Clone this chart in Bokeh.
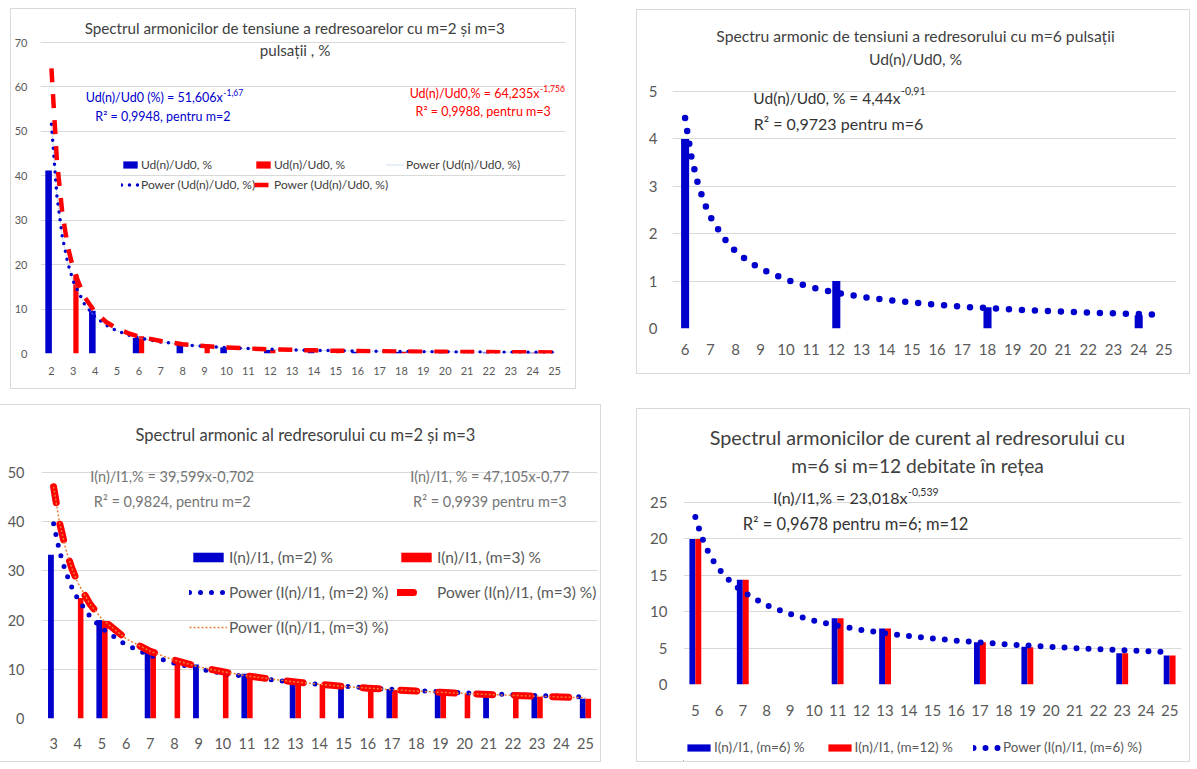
from bokeh.plotting import figure
from bokeh.models import Range1d, FixedTicker, Label, Legend, LegendItem, Spacer, ColumnDataSource
from bokeh.layouts import row, column
from bokeh.transform import dodge
from bokeh.embed import file_html
from bokeh.resources import INLINE

FONT = "Lato"
BLUE = "#0000CC"
RED = "#FF0000"
ORANGE = "#ED7D31"
LIGHTBLUE = "#9DC3E6"
GRID = "#D9D9D9"
TICK = "#595959"
TITLE = "#404040"
DARK = "#333333"
GRAY = "#767676"

# ---------------- Panel 1 data (Ud(n)/Ud0, m=2 and m=3) ----------------
p1_harmonics = list(range(2, 26))
p1_m2_harm = [2, 4, 6, 8, 10, 12, 14, 16, 18, 20, 22, 24]
p1_m2_vals = [41.2, 9.6, 3.5, 2.0, 1.4, 0.8, 0.55, 0.42, 0.33, 0.27, 0.22, 0.18]
p1_m3_harm = [3, 6, 9, 12, 15, 18, 21, 24]
p1_m3_vals = [17.7, 3.9, 1.6, 0.85, 0.55, 0.4, 0.3, 0.25]
p1_trend_x = [2, 2.25, 2.5, 2.75, 3, 3.5, 4, 4.5, 5, 5.5, 6, 7, 8, 9, 10, 11, 12, 13,
              14, 15, 16, 17, 18, 19, 20, 21, 22, 23, 24, 25]
p1_trend_m2 = [51.6, 35.5, 26.2, 20.3, 16.2, 11.2, 8.2, 6.4, 5.1, 4.2, 3.5, 2.6, 2.0, 1.6,
               1.3, 1.1, 0.94, 0.81, 0.71, 0.63, 0.56, 0.50, 0.46, 0.41, 0.38, 0.35, 0.32,
               0.30, 0.27, 0.26]
p1_trend_m3 = [64.2, 43.4, 31.5, 24.0, 19.0, 12.8, 9.3, 7.1, 5.6, 4.6, 3.8, 2.8, 2.1, 1.67,
               1.36, 1.13, 0.95, 0.82, 0.71, 0.62, 0.55, 0.49, 0.44, 0.40, 0.37, 0.33, 0.31,
               0.28, 0.26, 0.24]
p1_yticks = [0, 10, 20, 30, 40, 50, 60, 70]

# ---------------- Panel 2 data (Ud(n)/Ud0, m=6) ----------------
p2_harmonics = list(range(6, 26))
p2_m6_harm = [6, 12, 18, 24]
p2_m6_vals = [4.0, 1.0, 0.45, 0.28]
p2_trend_x = [6, 6.25, 6.5, 6.75, 7, 7.5, 8, 8.5, 9, 10, 11, 12, 13, 14, 15, 16, 17, 18,
              19, 20, 21, 22, 23, 24, 25]
p2_trend = [4.44, 3.62, 3.07, 2.67, 2.36, 1.93, 1.63, 1.42, 1.26, 1.03, 0.87, 0.755, 0.67,
            0.60, 0.55, 0.50, 0.46, 0.43, 0.40, 0.378, 0.355, 0.336, 0.32, 0.304, 0.29]
p2_yticks = [0, 1, 2, 3, 4, 5]

# ---------------- Panel 3 data (I(n)/I1, m=2 and m=3) ----------------
p3_harmonics = list(range(3, 26))
p3_m2_harm = [3, 5, 7, 9, 11, 13, 15, 17, 19, 21, 23, 25]
p3_m2_vals = [33.3, 20.0, 14.3, 11.0, 9.1, 7.6, 6.5, 6.0, 5.3, 4.8, 4.3, 4.0]
p3_m3_harm = [4, 5, 7, 8, 10, 11, 13, 14, 16, 17, 19, 20, 22, 23, 25]
p3_m3_vals = [24.5, 19.8, 14.0, 11.8, 9.6, 9.0, 7.5, 7.0, 6.2, 5.8, 5.2, 5.0, 4.6, 4.4, 4.0]
p3_trend_x = [3, 3.25, 3.5, 3.75, 4, 4.5, 5, 6, 7, 8, 9, 10, 11, 12, 13, 14, 15, 16, 17,
              18, 19, 20, 21, 22, 23, 24, 25]
p3_trend_m2 = [39.6, 33.9, 29.8, 26.7, 24.3, 20.8, 18.3, 14.96, 12.8, 11.25, 10.1, 9.19,
               8.47, 7.87, 7.36, 6.92, 6.54, 6.21, 5.92, 5.66, 5.42, 5.21, 5.01, 4.84, 4.67,
               4.52, 4.38]
p3_trend_m3 = [47.1, 39.7, 34.5, 30.6, 27.6, 23.3, 20.2, 16.2, 13.65, 11.85, 10.5, 9.5,
               8.67, 8.0, 7.43, 6.95, 6.53, 6.17, 5.85, 5.57, 5.32, 5.09, 4.88, 4.70, 4.52,
               4.36, 4.21]
p3_yticks = [0, 10, 20, 30, 40, 50]

# ---------------- Panel 4 data (I(n)/I1, m=6 and m=12) ----------------
p4_harmonics = list(range(5, 26))
p4_harm = [5, 7, 11, 13, 17, 19, 23, 25]
p4_m6_vals = [20.0, 14.4, 9.1, 7.7, 5.8, 5.2, 4.3, 4.0]
p4_m12_vals = [20.0, 14.4, 9.1, 7.7, 5.8, 5.1, 4.3, 4.0]
p4_trend_x = [5, 5.25, 5.5, 5.75, 6, 6.5, 7, 8, 9, 10, 11, 12, 13, 14, 15, 16, 17, 18, 19,
              20, 21, 22, 23, 24, 25]
p4_trend = [23.0, 20.4, 18.5, 17.0, 15.84, 14.05, 12.73, 10.9, 9.67, 8.76, 8.06, 7.50, 7.04,
            6.65, 6.32, 6.03, 5.78, 5.55, 5.35, 5.16, 5.0, 4.85, 4.71, 4.58, 4.46]
p4_yticks = [0, 5, 10, 15, 20, 25]


def make_fig(g, xticks, yticks, tick_size, xstand, ystand, outline=True):
    x0, y0, w, h = g["box"]
    fl, ft, fr, fb = g["frame"]
    ya, yb = g["yr"]
    # headroom above the grid so that the titles and notes sit inside the plot area
    ytop = yb + (ft - y0) * (yb - ya) / (fb - ft)
    p = figure(width=w, height=h, x_range=Range1d(*g["xr"]), y_range=Range1d(ya, ytop),
               output_backend="svg", toolbar_location=None,
               min_border_left=fl - x0, min_border_right=x0 + w - fr,
               min_border_top=0, min_border_bottom=y0 + h - fb)
    p.outline_line_color = None
    p.background_fill_color = "white"
    p.border_fill_color = "white"
    for ax in (p.xaxis[0], p.yaxis[0]):
        ax.axis_line_color = None
        ax.major_tick_line_color = None
        ax.minor_tick_line_color = None
        ax.major_tick_out = 0
        ax.major_tick_in = 0
        ax.minor_tick_out = 0
        ax.minor_tick_in = 0
        ax.major_label_text_font = FONT
        ax.major_label_text_font_size = f"{tick_size}px"
        ax.major_label_text_color = TICK
    p.xaxis[0].ticker = FixedTicker(ticks=xticks)
    p.yaxis[0].ticker = FixedTicker(ticks=yticks)
    p.xaxis[0].major_label_standoff = xstand
    p.yaxis[0].major_label_standoff = ystand
    p.xgrid.grid_line_color = None
    p.ygrid[0].ticker = FixedTicker(ticks=yticks)
    p.ygrid.grid_line_color = GRID
    p.ygrid.grid_line_width = 1
    if outline:
        p.styles = {"outline": "1px solid #D9D9D9"}
    return p


def to_data(g, px, py):
    fl, ft, fr, fb = g["frame"]
    xa, xb = g["xr"]
    ya, yb = g["yr"]
    return (xa + (px - fl) / (fr - fl) * (xb - xa), ya + (fb - py) / (fb - ft) * (yb - ya))


def text(p, g, px, py, s, size, color, align="center"):
    xd, yd = to_data(g, px, py)
    p.add_layout(Label(x=xd, y=yd, text=s, text_font=FONT, text_font_size=f"{size}px",
                       text_color=color, text_align=align, text_baseline="middle"))


def bars(p, xs, tops, offset, width, color):
    src = ColumnDataSource(dict(x=xs, top=tops))
    return p.vbar(x=dodge("x", offset), top="top", bottom=0, width=width, source=src,
                  fill_color=color, line_color=None)


def legend(p, fl, fb, items, left_px, bottom_px, size, color, gw, gh, lh, spacing,
           orientation="vertical", standoff=2):
    leg = Legend(items=items, location=(left_px - fl - 4, fb - bottom_px),
                 orientation=orientation,
                 label_text_font=FONT, label_text_font_size=f"{size}px",
                 label_text_color=color, glyph_width=gw, glyph_height=gh, label_height=lh,
                 label_standoff=standoff, spacing=spacing, padding=0, margin=0,
                 border_line_color=None, background_fill_alpha=0)
    p.add_layout(leg)


# ---------------- Panel 1 ----------------
g1 = dict(box=(11, 9, 564, 379), frame=(38, 42, 565, 353), xr=(1.5, 25.5), yr=(0, 70))
p1 = make_fig(g1, p1_harmonics, p1_yticks, 11, 13, 13)
b1a = bars(p1, p1_m2_harm, p1_m2_vals, -0.13, 0.30, BLUE)
b1b = bars(p1, p1_m3_harm, p1_m3_vals, 0.12, 0.24, RED)
t1c = p1.line(p1_trend_x, p1_trend_m2, line_color=LIGHTBLUE, line_width=1, line_dash="1 1")
t1a = p1.line(p1_trend_x, p1_trend_m2, line_color=BLUE, line_width=3.5, line_dash="0 8",
              line_cap="round", line_join="round")
t1b = p1.line(p1_trend_x, p1_trend_m3, line_color=RED, line_width=4.5, line_dash="14 12",
              line_join="round")
text(p1, g1, 293.5, 27, "Spectrul armonicilor de tensiune a redresoarelor cu m=2 și m=3", 15.2, TITLE)
text(p1, g1, 293.5, 49.5, "pulsații , %", 15.2, TITLE)
text(p1, g1, 221, 97, "Ud(n)/Ud0 (%) = 51,606x", 12.5, BLUE, "right")
text(p1, g1, 221.5, 91.5, "-1,67", 8.5, BLUE, "left")
text(p1, g1, 162.5, 116, "R² = 0,9948,  pentru m=2", 12.5, BLUE)
text(p1, g1, 539, 93, "Ud(n)/Ud0,% = 64,235x", 12.5, RED, "right")
text(p1, g1, 539.5, 87.5, "-1,756", 8.5, RED, "left")
text(p1, g1, 484, 111, "R² = 0,9988, pentru  m=3", 12.5, RED)
legend(p1, 38, 353, [LegendItem(label="Ud(n)/Ud0, %", renderers=[b1a]),
                     LegendItem(label="Power (Ud(n)/Ud0, %)", renderers=[t1a])],
       123, 192, 12, "#404040", 18, 9, 16, 4)
legend(p1, 38, 353, [LegendItem(label="Ud(n)/Ud0, %", renderers=[b1b]),
                     LegendItem(label="Power (Ud(n)/Ud0, %)", renderers=[t1b])],
       256, 192, 12, "#404040", 18, 9, 16, 4)
legend(p1, 38, 353, [LegendItem(label="Power (Ud(n)/Ud0, %)", renderers=[t1c])],
       388, 172, 12, "#404040", 18, 9, 16, 4)

# ---------------- Panel 2 ----------------
g2 = dict(box=(637, 10, 552, 363), frame=(672, 91, 1176, 328), xr=(5.5, 25.5), yr=(0, 5))
p2 = make_fig(g2, p2_harmonics, p2_yticks, 15, 15, 15)
bars(p2, p2_m6_harm, p2_m6_vals, 0.0, 0.32, BLUE)
p2.line(p2_trend_x, p2_trend, line_color=BLUE, line_width=6.5, line_dash="0 13",
        line_cap="round", line_join="round")
text(p2, g2, 915, 35, "Spectru armonic de tensiuni a redresorului cu m=6 pulsații", 15.7, TITLE)
text(p2, g2, 915, 58.7, "Ud(n)/Ud0, %", 15.7, TITLE)
text(p2, g2, 900, 97.3, "Ud(n)/Ud0, % = 4,44x", 15.5, DARK, "right")
text(p2, g2, 900.5, 90.5, "-0,91", 10.5, DARK, "left")
text(p2, g2, 838, 122.5, "R² = 0,9723 pentru m=6", 16, DARK)

# ---------------- Panel 3 ----------------
g3 = dict(box=(0, 405, 600, 356), frame=(41, 472, 597, 718), xr=(2.5, 25.5), yr=(0, 50))
p3 = make_fig(g3, p3_harmonics, p3_yticks, 14.5, 19, 17)
b3a = bars(p3, p3_m2_harm, p3_m2_vals, -0.11, 0.24, BLUE)
b3b = bars(p3, p3_m3_harm, p3_m3_vals, 0.12, 0.23, RED)
t3a = p3.line(p3_trend_x, p3_trend_m2, line_color=BLUE, line_width=5, line_dash="0 11",
              line_cap="round", line_join="round")
t3b = p3.line(p3_trend_x, p3_trend_m3, line_color=RED, line_width=7, line_dash="16 22",
              line_cap="round", line_join="round")
t3c = p3.line(p3_trend_x, p3_trend_m3, line_color=ORANGE, line_width=1.5, line_dash="2 2")
text(p3, g3, 305, 434, "Spectrul armonic al redresorului cu m=2 și m=3", 16.5, TITLE)
text(p3, g3, 171.7, 476, "I(n)/I1,% = 39,599x-0,702", 14.5, GRAY)
text(p3, g3, 171.8, 500.7, "R² = 0,9824, pentru m=2", 14.5, GRAY)
text(p3, g3, 489.3, 476, "I(n)/I1, % = 47,105x-0,77", 14.5, GRAY)
text(p3, g3, 489.4, 500.7, "R² = 0,9939 pentru m=3", 14.5, GRAY)
legend(p3, 41, 718, [LegendItem(label="I(n)/I1, (m=2) %", renderers=[b3a]),
                     LegendItem(label="Power (I(n)/I1, (m=2) %)", renderers=[t3a]),
                     LegendItem(label="Power (I(n)/I1, (m=3) %)", renderers=[t3c])],
       193, 636.7, 15.5, TICK, 38, 12, 20, 15)
legend(p3, 41, 718, [LegendItem(label="I(n)/I1, (m=3) %", renderers=[b3b]),
                     LegendItem(label="Power (I(n)/I1, (m=3) %)", renderers=[t3b])],
       401, 601.7, 15.5, TICK, 38, 12, 20, 15)

# ---------------- Panel 4 ----------------
g4 = dict(box=(637, 409, 552, 322), frame=(683, 502, 1181, 684), xr=(4.5, 25.5), yr=(0, 25))
p4 = make_fig(g4, p4_harmonics, p4_yticks, 15, 20, 16, outline=False)
b4a = bars(p4, p4_harm, p4_m6_vals, -0.125, 0.25, BLUE)
b4b = bars(p4, p4_harm, p4_m12_vals, 0.125, 0.25, RED)
t4 = p4.line(p4_trend_x, p4_trend, line_color=BLUE, line_width=6, line_dash="0 12",
             line_cap="round", line_join="round")
text(p4, g4, 917, 436, "Spectrul armonicilor de curent al redresorului cu", 19.8, TITLE)
text(p4, g4, 917, 465, "m=6 si m=12 debitate în rețea", 19.2, TITLE)
text(p4, g4, 907, 496.7, "I(n)/I1,% = 23,018x", 16, DARK, "right")
text(p4, g4, 907.5, 491, "-0,539", 10.5, DARK, "left")
text(p4, g4, 855, 523, "R² = 0,9678 pentru m=6; m=12", 16.5, DARK)

# legend strip under panel 4 (keys of the same three series, drawn off-canvas);
# its plot area is aligned with panel 4's plot area by the column layout
p4l = figure(width=552, height=30, x_range=Range1d(0, 552), y_range=Range1d(0, 30),
             output_backend="svg", toolbar_location=None,
             x_axis_location=None, y_axis_location=None,
             min_border_left=0, min_border_right=0, min_border_top=0, min_border_bottom=0)
p4l.grid.visible = False
p4l.outline_line_color = None
p4l.background_fill_color = "white"
p4l.border_fill_color = "white"
key_src = ColumnDataSource(dict(x=[-100, -90], top=[1, 1]))
lb1 = p4l.vbar(x="x", top="top", width=1, source=key_src, fill_color=BLUE, line_color=None)
lb2 = p4l.vbar(x="x", top="top", width=1, source=key_src, fill_color=RED, line_color=None)
lt = p4l.line(x="x", y="top", source=key_src, line_color=BLUE, line_width=6,
              line_dash="0 12", line_cap="round")
legend(p4l, 683, 761, [LegendItem(label="I(n)/I1, (m=6) %", renderers=[lb1]),
                       LegendItem(label="I(n)/I1, (m=12) %", renderers=[lb2]),
                       LegendItem(label="Power (I(n)/I1, (m=6) %)", renderers=[lt])],
       688, 755.2, 13.5, TICK, 29, 9, 16, 20, orientation="horizontal", standoff=1)

col4 = column(p4, p4l)
col4.styles = {"outline": "1px solid #D9D9D9"}

layout = column(
    Spacer(width=1, height=9),
    row(Spacer(width=11, height=1), p1, Spacer(width=62, height=1),
        column(Spacer(width=1, height=1), p2)),
    Spacer(width=1, height=17),
    row(p3, Spacer(width=37, height=1), column(Spacer(width=1, height=4), col4)),
)

open("out.html", "w").write(file_html(layout, INLINE))
